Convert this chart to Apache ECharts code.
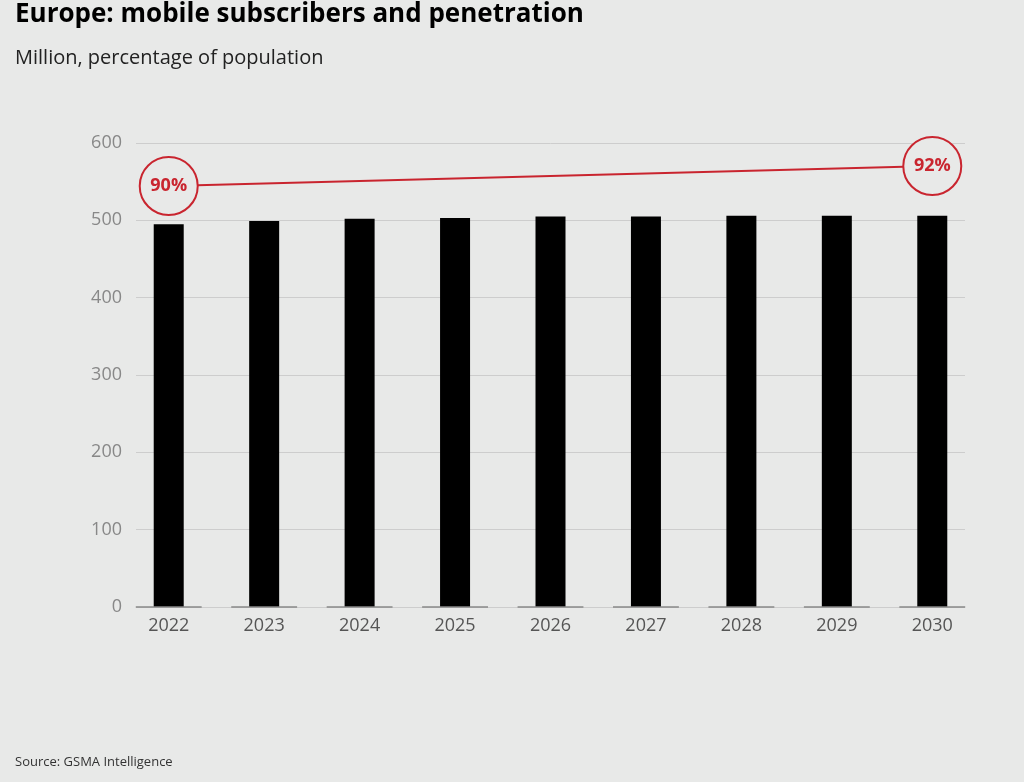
<!DOCTYPE html>
<html>
<head>
<meta charset="utf-8">
<script src="https://cdn.jsdelivr.net/npm/echarts@6/dist/echarts.min.js"></script>
<style>
  html, body { margin: 0; padding: 0; background: #e8e9e8; }
  #main { width: 1024px; height: 782px; }
</style>
</head>
<body>
<div id="main"></div>
<script>
// data
var years = ['2022', '2023', '2024', '2025', '2026', '2027', '2028', '2029', '2030'];
var subscribers = [495, 499, 502, 503, 505, 505, 506, 506, 506];
// penetration only labelled at the ends
var penetration = [90, null, null, null, null, null, null, null, 92];
var yTicks = [0, 100, 200, 300, 400, 500, 600];

var RED = '#c9252f';
var BG = '#e8e9e8';
var FONT = '"Open Sans", "Noto Sans", sans-serif';

var chartDom = document.getElementById('main');
var myChart = echarts.init(chartDom);
var option;

option = {
  backgroundColor: BG,
  textStyle: { fontFamily: FONT },
  title: [
    {
      text: 'Europe: mobile subscribers and penetration',
      left: 15, top: 2, padding: 0,
      textStyle: { fontSize: 26, fontWeight: 'bold', color: '#000', fontFamily: FONT }
    },
    {
      text: 'Million, percentage of population',
      left: 15, top: 48, padding: 0,
      textStyle: { fontSize: 20, fontWeight: 'normal', color: '#222', fontFamily: FONT }
    },
    {
      text: 'Source: GSMA Intelligence',
      left: 15, top: 756, padding: 0,
      textStyle: { fontSize: 13, fontWeight: 'normal', color: '#333', fontFamily: FONT }
    }
  ],
  grid: [
    // grid for y labels + gridlines
    { left: 136, right: 59, top: 143, bottom: 175 },
    // grid for bars / line
    { left: 121, right: 44, top: 143, bottom: 175 }
  ],
  xAxis: [
    { type: 'category', gridIndex: 0, data: years, show: false },
    {
      type: 'category', gridIndex: 1, data: years,
      axisLine: { show: false }, axisTick: { show: false },
      axisLabel: { color: '#555', fontSize: 18, margin: 10, fontFamily: FONT }
    }
  ],
  yAxis: [
    {
      type: 'value', gridIndex: 0, min: 0, max: 600, interval: 100,
      axisLine: { show: false }, axisTick: { show: false },
      axisLabel: {
        color: '#888', fontSize: 18, margin: 14, fontFamily: FONT,
        customValues: yTicks
      },
      splitLine: { lineStyle: { color: '#cdcdcd', width: 1 } }
    },
    { type: 'value', gridIndex: 1, min: 0, max: 600, show: false, splitLine: { show: false } },
    { type: 'value', gridIndex: 1, min: 47.9, max: 94.3, show: false, splitLine: { show: false } }
  ],
  series: [
    {
      name: 'Subscribers',
      type: 'bar',
      xAxisIndex: 1, yAxisIndex: 1,
      data: subscribers,
      barWidth: 30,
      itemStyle: { color: '#000' },
      z: 2
    },
    {
      // short baseline under each bar
      type: 'custom',
      xAxisIndex: 1, yAxisIndex: 1,
      data: years.map(function (y, i) { return [i, 0]; }),
      renderItem: function (params, api) {
        var p = api.coord([api.value(0), api.value(1)]);
        var bw = api.size([1, 0])[0];
        var half = bw * 0.345;
        return {
          type: 'line',
          shape: { x1: p[0] - half, y1: p[1], x2: p[0] + half, y2: p[1] },
          style: { stroke: '#888', lineWidth: 1.5 }
        };
      },
      z: 3
    },
    {
      name: 'Penetration',
      type: 'line',
      xAxisIndex: 1, yAxisIndex: 2,
      data: penetration,
      connectNulls: true,
      symbol: 'circle',
      symbolSize: 58,
      lineStyle: { color: RED, width: 2 },
      itemStyle: { color: BG, borderColor: RED, borderWidth: 2 },
      label: {
        show: true, position: 'inside',
        formatter: '{c}%',
        color: RED, fontSize: 18, fontWeight: 'bold', fontFamily: FONT
      },
      z: 5
    }
  ]
};

option && myChart.setOption(option);
</script>
</body>
</html>
